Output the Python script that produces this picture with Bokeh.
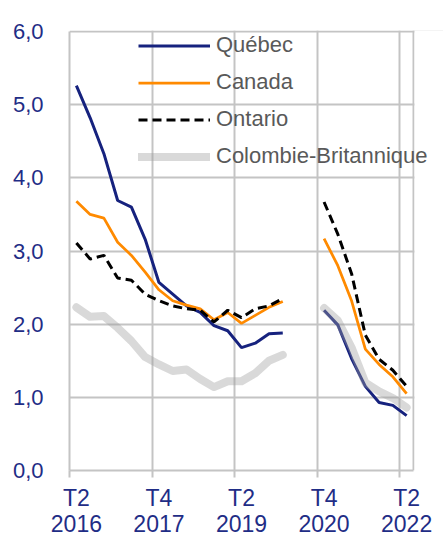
from bokeh.plotting import figure
from bokeh.models import (Range1d, FixedTicker, CustomJSTickFormatter, Legend, LegendItem,
                          ColumnDataSource, BoxAnnotation)
from bokeh.embed import file_html
from bokeh.resources import INLINE

nan = float("nan")

quarters = ["T2 2016", "T3 2016", "T4 2016", "T1 2017", "T2 2017", "T3 2017", "T4 2017",
            "T1 2018", "T2 2018", "T3 2018", "T4 2018", "T1 2019", "T2 2019", "T3 2019",
            "T4 2019", "T1 2020", "T2 2020", "T3 2020", "T4 2020", "T1 2021", "T2 2021",
            "T3 2021", "T4 2021", "T1 2022", "T2 2022"]

quebec = [5.26, 4.82, 4.33, 3.69, 3.60, 3.16, 2.57, 2.41, 2.25, 2.16, 1.98, 1.91, 1.68, 1.74,
          1.87, 1.88, nan, nan, 2.19, 1.99, 1.53, 1.15, 0.93, 0.89, 0.75]
canada = [3.68, 3.50, 3.45, 3.12, 2.94, 2.71, 2.47, 2.32, 2.26, 2.21, 2.06, 2.16, 2.01, 2.12,
          2.23, 2.31, nan, nan, 3.17, 2.80, 2.32, 1.66, 1.45, 1.28, 1.05]
ontario = [3.11, 2.89, 2.94, 2.63, 2.60, 2.41, 2.32, 2.25, 2.21, 2.19, 2.03, 2.19, 2.09, 2.21,
           2.25, 2.35, nan, nan, 3.67, 3.23, 2.69, 1.85, 1.52, 1.37, 1.15]
colombie_britannique = [2.23, 2.10, 2.11, 1.95, 1.77, 1.55, 1.45, 1.36, 1.38, 1.25, 1.14, 1.22,
                        1.22, 1.33, 1.50, 1.58, nan, nan, 2.22, 2.05, 1.68, 1.20, 1.08, 0.99, 0.86]

series_names = ["Québec", "Canada", "Ontario", "Colombie-Britannique"]
labeled_quarters = ["T2 2016", "T4 2017", "T2 2019", "T4 2020", "T2 2022"]
y_ticks = [0, 1, 2, 3, 4, 5, 6]

NAVY = "#16227e"
LABEL = "#1f2d86"
GRID = "#c4c4c4"
FONT = "Liberation Sans"

n = len(quarters)
PLOT_W = 344            # width of the drawn chart area
FRAME_W = 374           # frame is wider so that the legend text is not clipped
PLOT_H = 439
FRAME_H = 440           # one spare pixel so the top grid line is not clipped
px_per_q = PLOT_W / n
x_end = -0.5 + FRAME_W / px_per_q
y_top = y_ticks[-1] * FRAME_H / PLOT_H

x = list(range(n))
src = ColumnDataSource(dict(x=x, q=quebec, c=canada, o=ontario, cb=colombie_britannique))

p = figure(frame_width=FRAME_W, frame_height=FRAME_H, output_backend="svg",
           toolbar_location=None, x_range=Range1d(-0.5, x_end), y_range=Range1d(0, y_top),
           min_border_left=69, min_border_right=0, min_border_top=30, min_border_bottom=67)
p.background_fill_color = "white"
p.border_fill_color = "white"
p.outline_line_color = None

tick_pos = [quarters.index(t) for t in labeled_quarters]
bounds = [t - 0.5 for t in tick_pos]
labels = {quarters.index(t): t.replace(" ", "\n") for t in labeled_quarters}

p.xgrid.ticker = FixedTicker(ticks=bounds + [n - 0.5])
p.ygrid.ticker = FixedTicker(ticks=y_ticks)
p.xgrid.grid_line_color = GRID
p.xgrid.grid_line_width = 2
p.ygrid.grid_line_color = GRID
p.ygrid.grid_line_width = 2

# blank out the part of the frame that lies outside the chart area
p.add_layout(BoxAnnotation(left=n - 0.5 + 1.0 / px_per_q, fill_color="white", fill_alpha=1.0,
                           line_color=None, level="underlay"))
p.add_layout(BoxAnnotation(bottom=y_ticks[-1] + 1.0 / (PLOT_H / 6), fill_color="white",
                           fill_alpha=1.0, line_color=None, level="underlay"))

r_q = p.line("x", "q", source=src, line_color=NAVY, line_width=3)
r_c = p.line("x", "c", source=src, line_color="#ff8a00", line_width=2.75)
r_o = p.line("x", "o", source=src, line_color="black", line_width=3, line_dash="9 5")
r_cb = p.line("x", "cb", source=src, line_color="#a0a0a0", line_alpha=0.4, line_width=8,
              line_cap="round", line_join="round")

xa = p.xaxis[0]
xa.ticker = FixedTicker(ticks=tick_pos, minor_ticks=bounds)
xa.bounds = (-0.5, n - 0.5)
xa.major_label_overrides = labels
xa.major_tick_line_color = None
xa.major_tick_out = 0
xa.major_tick_in = 0
xa.minor_tick_line_color = GRID
xa.minor_tick_line_width = 2
xa.minor_tick_out = 7
xa.minor_tick_in = 0
xa.axis_line_color = GRID
xa.axis_line_width = 2
xa.major_label_standoff = 7
xa.major_label_text_font = FONT
xa.major_label_text_font_size = "23px"
xa.major_label_text_color = LABEL
xa.major_label_text_line_height = 1.0

ya = p.yaxis[0]
ya.ticker = FixedTicker(ticks=y_ticks)
ya.bounds = (0, y_ticks[-1])
ya.formatter = CustomJSTickFormatter(code="return tick.toFixed(1).replace('.', ',');")
ya.major_tick_line_color = None
ya.minor_tick_line_color = None
ya.axis_line_color = GRID
ya.axis_line_width = 2
ya.major_label_standoff = 20
ya.major_label_text_font = FONT
ya.major_label_text_font_size = "22px"
ya.major_label_text_color = LABEL

legend = Legend(items=[LegendItem(label=s, renderers=[r]) for s, r in
                       zip(series_names, [r_q, r_c, r_o, r_cb])],
                location=(69, 301), padding=0, margin=0, spacing=11,
                glyph_width=72, glyph_height=25, label_height=25, label_standoff=6,
                label_text_font=FONT, label_text_font_size="22px", label_text_color="#595959",
                background_fill_alpha=0, border_line_color=None)
p.add_layout(legend)

open("out.html", "w").write(file_html(p, INLINE))
